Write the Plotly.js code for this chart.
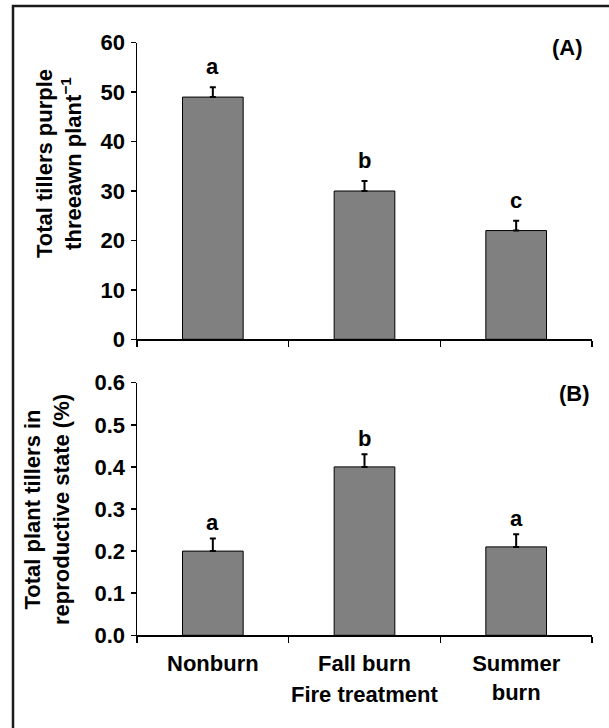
<!DOCTYPE html>
<html>
<head>
<meta charset="utf-8">
<script src="https://cdn.plot.ly/plotly-3.0.1.min.js"></script>
<style>html,body{margin:0;padding:0;background:#fff;}#chart{width:609px;height:728px;}</style>
</head>
<body>
<div id="chart"></div>
<script>
const categories = ['Nonburn', 'Fall burn', 'Summer burn'];
const tickLabels = ['Nonburn', 'Fall burn', 'Summer<br>burn'];
const tillersMean = [49, 30, 22];
const tillersSE = [2, 2, 2];
const tillersLetters = ['a', 'b', 'c'];
const reproMean = [0.20, 0.40, 0.21];
const reproSE = [0.03, 0.03, 0.03];
const reproLetters = ['a', 'b', 'a'];
const xTitle = 'Fire treatment';
const yTitleA = 'Total tillers purple<br>threeawn plant<sup>−1</sup>';
const yTitleB = 'Total plant tillers in<br>reproductive state (%)';

const W = 609, H = 728;
const FONT = 'Arial, "Liberation Sans", sans-serif';
const px = v => v / W, py = v => 1 - v / H;
const bold = (size) => ({family: FONT, size: size, color: '#000', weight: 'bold'});

const barStyle = {color: '#808080', line: {color: '#000', width: 1}};
const errStyle = (arr) => ({type: 'data', array: arr, arrayminus: arr.map(() => 0), symmetric: false,
  color: '#000', thickness: 2, width: 3});

const traces = [
  {type: 'bar', x: categories, y: tillersMean, xaxis: 'x', yaxis: 'y', width: 0.4,
   marker: barStyle, error_y: errStyle(tillersSE), hoverinfo: 'x+y'},
  {type: 'bar', x: categories, y: reproMean, xaxis: 'x2', yaxis: 'y2', width: 0.4,
   marker: barStyle, error_y: errStyle(reproSE), hoverinfo: 'x+y'}
];

const baseX = {type: 'category', categoryorder: 'array', categoryarray: categories,
  range: [-0.5, 2.5], tickson: 'boundaries', ticks: 'outside', ticklen: 6, tickwidth: 1.5,
  tickcolor: '#000', showline: true, linecolor: '#000', linewidth: 1.5, showgrid: false,
  zeroline: false, fixedrange: true, automargin: false};
const baseY = {ticks: 'outside', ticklen: 5, tickwidth: 1.5, tickcolor: '#000', showline: true,
  linecolor: '#000', linewidth: 1.5, showgrid: false, zeroline: false, tickfont: bold(22),
  ticklabelstandoff: 1, fixedrange: true, automargin: false};

const annotations = [];
tillersLetters.forEach((t, i) => annotations.push({text: t, x: categories[i], y: tillersMean[i] + tillersSE[i],
  xref: 'x', yref: 'y', xanchor: 'center', yanchor: 'bottom', yshift: 6, showarrow: false, font: bold(22)}));
reproLetters.forEach((t, i) => annotations.push({text: t, x: categories[i], y: reproMean[i] + reproSE[i],
  xref: 'x2', yref: 'y2', xanchor: 'center', yanchor: 'bottom', yshift: 1, showarrow: false, font: bold(22)}));
annotations.push({text: '(A)', x: px(567), y: py(48), xref: 'paper', yref: 'paper', xanchor: 'center',
  yanchor: 'middle', showarrow: false, font: bold(22)});
annotations.push({text: '(B)', x: px(574), y: py(393), xref: 'paper', yref: 'paper', xanchor: 'center',
  yanchor: 'middle', showarrow: false, font: bold(22)});
annotations.push({text: yTitleA, x: px(59), y: py(164), xref: 'paper', yref: 'paper', textangle: -90,
  xanchor: 'center', yanchor: 'middle', showarrow: false, font: bold(22)});
annotations.push({text: yTitleB, x: px(47), y: py(510), xref: 'paper', yref: 'paper', textangle: -90,
  xanchor: 'center', yanchor: 'middle', showarrow: false, font: bold(22)});
annotations.push({text: xTitle, x: categories[1], y: py(694), xref: 'x2', yref: 'paper', xanchor: 'center',
  yanchor: 'middle', showarrow: false, font: bold(22)});

const layout = {
  width: W, height: H, margin: {l: 0, r: 0, t: 0, b: 0},
  paper_bgcolor: '#fff', plot_bgcolor: 'rgba(0,0,0,0)', showlegend: false, bargap: 0.6,
  font: {family: FONT, color: '#000'},
  xaxis: Object.assign({}, baseX, {domain: [px(137), px(592)], anchor: 'y', showticklabels: false}),
  yaxis: Object.assign({}, baseY, {domain: [py(339.3), py(42.7)], anchor: 'x', range: [0, 60], dtick: 10, tick0: 0}),
  xaxis2: Object.assign({}, baseX, {domain: [px(137), px(592)], anchor: 'y2', tickmode: 'array',
    tickvals: categories, ticktext: tickLabels, ticklabelstandoff: 8, tickfont: bold(22)}),
  yaxis2: Object.assign({}, baseY, {domain: [py(635.3), py(382.7)], anchor: 'x2', range: [0, 0.6], dtick: 0.1,
    tick0: 0, tickformat: '.1f'}),
  annotations: annotations,
  shapes: [{type: 'rect', xref: 'paper', yref: 'paper', x0: px(13), x1: 1.1, y0: -0.1, y1: py(6),
    line: {color: '#1a1a1a', width: 2.5}, fillcolor: 'rgba(0,0,0,0)', layer: 'above'}]
};

Plotly.newPlot('chart', traces, layout, {displayModeBar: false, staticPlot: true});
</script>
</body>
</html>
